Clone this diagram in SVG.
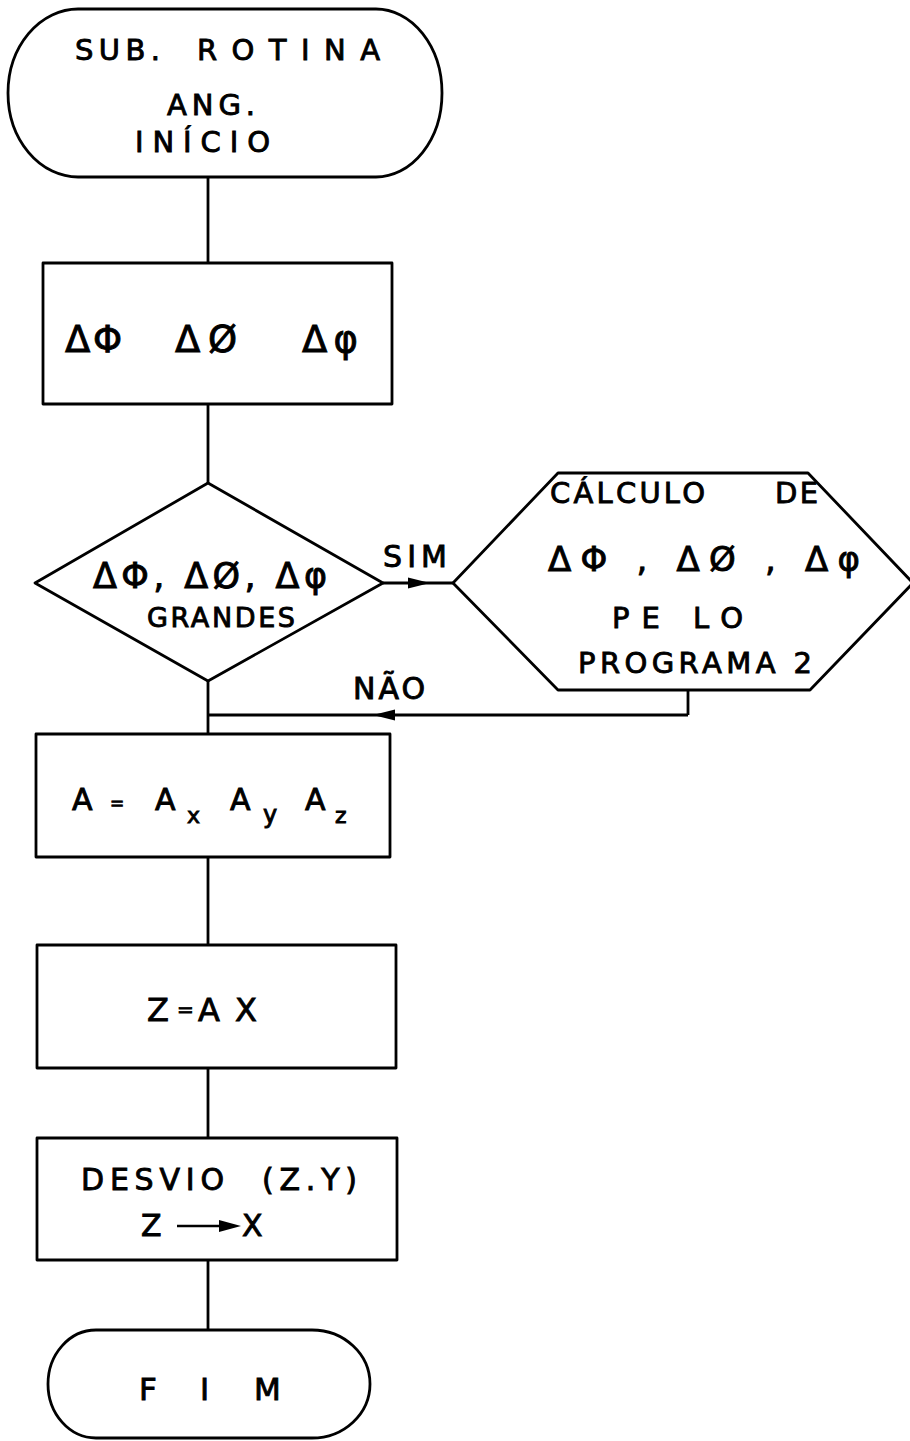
<svg xmlns="http://www.w3.org/2000/svg" width="910" height="1441" viewBox="0 0 910 1441">
<style>
.s{fill:none;stroke:#000;stroke-width:2.8;stroke-linejoin:round}
.t{font-family:"DejaVu Sans","Liberation Sans",sans-serif;fill:#000;stroke:#000;stroke-width:0.9}
</style>
<defs>
<marker id="ah" viewBox="0 0 22 12" refX="22" refY="6" markerWidth="22" markerHeight="12" markerUnits="userSpaceOnUse" orient="auto">
<path d="M0,0.5 L22,6 L0,11.5 Z" fill="#000"/>
</marker>
</defs>
<rect width="910" height="1441" fill="#fff"/>
<g id="connectors">
<path class="s" d="M208,177 V263"/>
<path class="s" d="M208,404 V483"/>
<path class="s" d="M208,681 V734"/>
<path class="s" d="M208,857 V945"/>
<path class="s" d="M208,1068 V1138"/>
<path class="s" d="M208,1260 V1330"/>
<path class="s" d="M383,583 H430 H453" marker-mid="url(#ah)"/>
<path class="s" d="M688,690 V715"/>
<path class="s" d="M688,715 H373 H208" marker-mid="url(#ah)"/>
<text class="t" x="383" y="567" font-size="30" textLength="64" lengthAdjust="spacing">SIM</text>
<text class="t" x="353" y="699" font-size="30" textLength="72" lengthAdjust="spacing">NÃO</text>
</g>
<g id="start">
<path class="s" d="M78,9 H376 A66,84 0 0 1 376,177 H78 A70,84 0 0 1 78,9 Z"/>
<text class="t" x="75" y="60" font-size="29" textLength="85" lengthAdjust="spacing">SUB.</text>
<text class="t" x="197" y="60" font-size="29" textLength="183" lengthAdjust="spacing">ROTINA</text>
<text class="t" x="167" y="115" font-size="29" textLength="88" lengthAdjust="spacing">ANG.</text>
<text class="t" x="135" y="152" font-size="29" textLength="135" lengthAdjust="spacing">INÍCIO</text>
</g>
<g id="box1">
<rect class="s" x="43" y="263" width="349" height="141"/>
<text class="t" x="65" y="352" font-size="37" textLength="57" lengthAdjust="spacing">ΔΦ</text>
<text class="t" x="175" y="352" font-size="37" textLength="62" lengthAdjust="spacing">ΔØ</text>
<text class="t" x="302" y="352" font-size="37" textLength="56" lengthAdjust="spacing">Δφ</text>
</g>
<g id="decision">
<path class="s" d="M208,483 L383,583 L208,681 L35,583 Z"/>
<text class="t" x="93" y="588" font-size="35" textLength="234" lengthAdjust="spacing">ΔΦ, ΔØ, Δφ</text>
<text class="t" x="147" y="627" font-size="27" textLength="148" lengthAdjust="spacing">GRANDES</text>
</g>
<g id="calc">
<path class="s" d="M453,583 L558,473 H808 L913,583 L810,690 H558 Z"/>
<text class="t" x="550" y="503" font-size="29" textLength="155" lengthAdjust="spacing">CÁLCULO</text>
<text class="t" x="775" y="503" font-size="29" textLength="43" lengthAdjust="spacing">DE</text>
<text class="t" x="548" y="571" font-size="34" textLength="312" lengthAdjust="spacing">ΔΦ , ΔØ , Δφ</text>
<text class="t" x="612" y="628" font-size="29" textLength="131" lengthAdjust="spacing">PE LO</text>
<text class="t" x="578" y="673" font-size="29" textLength="234" lengthAdjust="spacing">PROGRAMA 2</text>
</g>
<g id="boxA">
<rect class="s" x="36" y="734" width="354" height="123"/>
<text class="t" x="72" y="810" font-size="30">A</text>
<text class="t" x="110" y="809" font-size="17">=</text>
<text class="t" x="155" y="810" font-size="30">A</text>
<text class="t" x="187" y="823" font-size="22">x</text>
<text class="t" x="230" y="810" font-size="30">A</text>
<text class="t" x="263" y="823" font-size="24">y</text>
<text class="t" x="305" y="810" font-size="30">A</text>
<text class="t" x="335" y="823" font-size="22">z</text>
</g>
<g id="boxZ">
<rect class="s" x="37" y="945" width="359" height="123"/>
<text class="t" x="147" y="1021" font-size="32">Z</text>
<text class="t" x="177" y="1016" font-size="20">=</text>
<text class="t" x="198" y="1021" font-size="32">A</text>
<text class="t" x="235" y="1021" font-size="32">X</text>
</g>
<g id="desvio">
<rect class="s" x="37" y="1138" width="360" height="122"/>
<text class="t" x="81" y="1190" font-size="30" textLength="143" lengthAdjust="spacing">DESVIO</text>
<text class="t" x="262" y="1190" font-size="30" textLength="95" lengthAdjust="spacing">(Z.Y)</text>
<text class="t" x="141" y="1236" font-size="30">Z</text>
<path d="M177,1226 H222" stroke="#000" stroke-width="2.6"/>
<path d="M219,1220 L241,1226 L219,1232 Z" fill="#000"/>
<text class="t" x="242" y="1236" font-size="30">X</text>
</g>
<g id="end">
<path class="s" d="M96,1330 H312 A58,54 0 0 1 312,1438 H96 A48,54 0 0 1 96,1330 Z"/>
<text class="t" x="139" y="1400" font-size="31">F</text>
<text class="t" x="200" y="1400" font-size="31">I</text>
<text class="t" x="254" y="1400" font-size="31">M</text>
</g>
</svg>
